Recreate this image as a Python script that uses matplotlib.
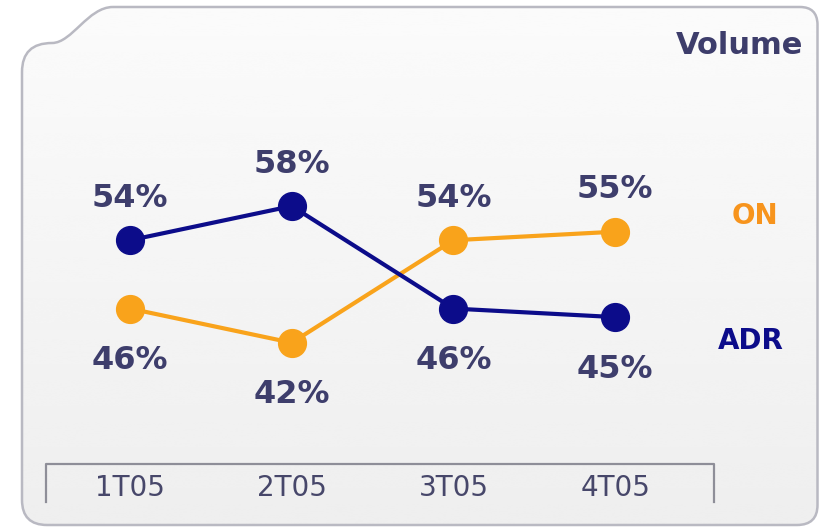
import numpy as np
import matplotlib
matplotlib.use("Agg")
import matplotlib.pyplot as plt
from matplotlib.path import Path
from matplotlib.patches import PathPatch
from matplotlib.transforms import blended_transform_factory

# data
quarters = ["1T05", "2T05", "3T05", "4T05"]
adr = [54, 58, 46, 45]
on = [46, 42, 54, 55]

navy = "#0c0c8a"
orange = "#f9a31b"
label_col = "#3e3e6c"

W, H = 819, 528
fig = plt.figure(figsize=(W / 100, H / 100), dpi=100)
fig.patch.set_facecolor("white")

# background layer in pixel coords (y down)
bg = fig.add_axes([0, 0, 1, 1])
bg.set_xlim(0, W)
bg.set_ylim(H, 0)
bg.axis("off")

verts = [
    (113, 7), (800, 7),
    (817, 7), (817.5, 24),
    (817.5, 505),
    (817.5, 525), (797, 525),
    (47, 525),
    (22, 525), (22, 500),
    (22, 72),
    (22, 43), (52, 43),
    (72, 43), (88, 7), (113, 7),
]
codes = [
    Path.MOVETO, Path.LINETO,
    Path.CURVE3, Path.CURVE3,
    Path.LINETO,
    Path.CURVE3, Path.CURVE3,
    Path.LINETO,
    Path.CURVE3, Path.CURVE3,
    Path.LINETO,
    Path.CURVE3, Path.CURVE3,
    Path.CURVE4, Path.CURVE4, Path.CURVE4,
]
panel = PathPatch(Path(verts, codes), facecolor="none", edgecolor="#b9b9c2", lw=1.8, zorder=2)
bg.add_patch(panel)

# soft gradient fill inside the panel
grad = np.linspace(0.985, 0.935, 256).reshape(-1, 1)
grad = np.hstack([grad, grad * 0.999])
img = bg.imshow(grad, cmap="gray", vmin=0, vmax=1, extent=(0, W, H, 0),
                aspect="auto", zorder=1, interpolation="bicubic")
img.set_clip_path(panel)

# axis bracket at bottom
bg.plot([46, 46, 714, 714], [502, 464, 464, 502], color="#8e8e98", lw=1.6, zorder=3)

# main chart axes, overlaid
x0_px, dx_px = 130, 161.7
y_mid_px, dy_px = 274.4, 8.54
ax = fig.add_axes([0, 0, 1, 1])
ax.patch.set_alpha(0)
ax.axis("off")
ax.set_xlim(-x0_px / dx_px, (W - x0_px) / dx_px)
ax.set_ylim(50 - (H - y_mid_px) / dy_px, 50 + y_mid_px / dy_px)

x = np.arange(len(quarters))
ax.plot(x, on, color=orange, lw=3, marker="o", ms=20, mec=orange, mfc=orange, zorder=4)
ax.plot(x, adr, color=navy, lw=3, marker="o", ms=20, mec=navy, mfc=navy, zorder=5)

for i in range(len(quarters)):
    for vals, other in ((adr, on), (on, adr)):
        up = vals[i] > other[i]
        ax.annotate(f"{vals[i]}%", (x[i], vals[i]),
                    xytext=(0, 42 if up else -52), textcoords="offset pixels",
                    ha="center", va="center", fontsize=23, fontweight="bold",
                    color=label_col)

tr = blended_transform_factory(ax.transData, bg.transData)
for i, q in enumerate(quarters):
    ax.text(x[i], 488, q, transform=tr, ha="center", va="center",
            fontsize=20, color="#47476a")

bg.text(740, 46, "Volume", ha="center", va="center", fontsize=22,
        fontweight="bold", color="#3d3d6b", zorder=6)
bg.text(755, 216, "ON", ha="center", va="center", fontsize=20,
        fontweight="bold", color="#f7941d", zorder=6)
bg.text(751, 341, "ADR", ha="center", va="center", fontsize=20,
        fontweight="bold", color=navy, zorder=6)

fig.savefig("out.png", dpi=100)
